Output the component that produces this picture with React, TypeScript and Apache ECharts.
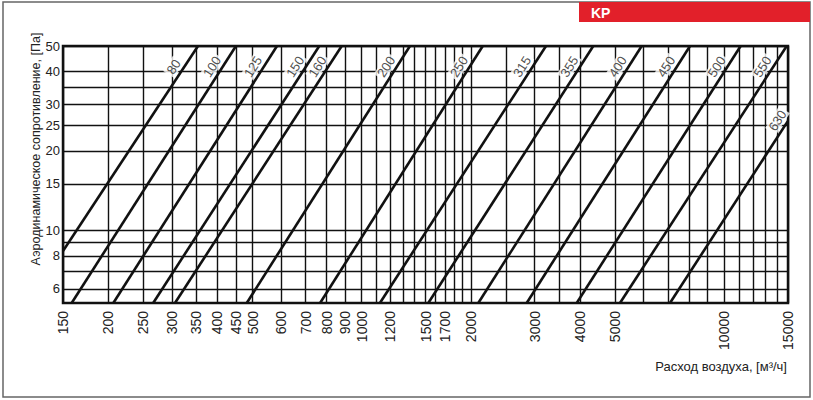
import React, { useEffect, useRef } from 'react';
import * as echarts from 'echarts';

// Duct diameters (mm), one characteristic line each
const diameters = ['80', '100', '125', '150', '160', '200', '250', '315', '355', '400', '450', '500', '550', '630'];
// First point of each line: air flow [m³/h] and pressure drop [Pa]
const startFlow = [150, 158.5, 206.5, 266, 305.5, 482, 768, 1123, 1527, 2098, 2853, 3920, 5160, 7088];
const startPressure = [8.35, 5.3, 5.3, 5.3, 5.3, 5.3, 5.3, 5.3, 5.3, 5.3, 5.3, 5.3, 5.3, 5.3];
// Last point of each line
const endFlow = [353.6, 450, 584, 764, 881, 1359, 2158, 3225, 4355, 5923, 8050, 11105, 14880, 15000];
const endPressure = [50, 50, 50, 50, 50, 50, 50, 50, 50, 50, 50, 50, 50, 26];
// Pressure at which each diameter label sits beside its line
const labelPressure = [40, 40, 40, 40, 40, 40, 40, 40, 40, 40, 40, 40, 40, 25];

const xTickValues = [150, 200, 250, 300, 350, 400, 450, 500, 600, 700, 800, 900, 1000, 1100, 1200, 1300, 1400, 1500, 1600, 1700, 1800, 1900, 2000, 2500, 3000, 3500, 4000, 5000, 6000, 7000, 8000, 9000, 10000, 11000, 12000, 13000, 14000, 15000];
const xLabelValues = [150, 200, 250, 300, 350, 400, 450, 500, 600, 700, 800, 900, 1000, 1200, 1500, 1700, 2000, 3000, 4000, 5000, 10000, 15000];
const yTickValues = [6, 7, 8, 9, 10, 15, 20, 25, 30, 35, 40, 50];
const yLabelValues = [6, 8, 10, 15, 20, 25, 30, 40, 50];

const yTitle = 'Аэродинамическое сопротивление, [Па]';
const xTitle = 'Расход воздуха, [м³/ч]';
const badge = 'KP';

const SANS = '"Liberation Sans", Arial, sans-serif';

function flowAt(i: number, p: number) {
  const lp1 = Math.log10(startPressure[i]);
  const lp2 = Math.log10(endPressure[i]);
  const lq1 = Math.log10(startFlow[i]);
  const lq2 = Math.log10(endFlow[i]);
  const t = (Math.log10(p) - lp1) / (lp2 - lp1);
  return Math.pow(10, lq1 + t * (lq2 - lq1));
}

export default function App() {
  const ref = useRef<HTMLDivElement>(null);
  useEffect(() => {
    if (!ref.current) return;
    const chart = echarts.init(ref.current, undefined, { renderer: 'svg' });
    const lineSeries = diameters.map((d, i) => ({
      type: 'line',
      name: d,
      data: [
        [startFlow[i], startPressure[i]],
        [endFlow[i], endPressure[i]],
      ],
      symbol: 'none',
      silent: true,
      z: 3,
      lineStyle: { color: '#111', width: 2.6 },
    }));
    const labelSeries = {
      type: 'scatter',
      silent: true,
      z: 2,
      symbol: 'circle',
      symbolSize: 1,
      itemStyle: { color: 'transparent' },
      data: diameters.map((d, i) => ({ name: d, value: [flowAt(i, labelPressure[i]), labelPressure[i]] })),
      label: {
        show: true,
        formatter: '{b}',
        position: 'inside',
        rotate: 57.5,
        offset: [0, -9],
        backgroundColor: '#fff',
        padding: [0, 2],
        fontSize: 13,
        fontFamily: SANS,
        color: '#222',
      },
    };
    chart.setOption({
      animation: false,
      backgroundColor: '#fff',
      grid: {
        left: 63,
        right: 25,
        top: 46,
        bottom: 97,
        show: true,
        borderColor: '#111',
        borderWidth: 2.5,
        backgroundColor: 'transparent',
      },
      xAxis: {
        type: 'log',
        logBase: 10,
        min: 150,
        max: 15000,
        axisLine: { show: false },
        axisTick: { show: false, customValues: xTickValues },
        splitLine: { show: true, lineStyle: { color: '#111', width: 1.4 } },
        minorTick: { show: false },
        minorSplitLine: { show: false },
        axisLabel: {
          customValues: xLabelValues,
          rotate: 90,
          margin: 8,
          fontSize: 14,
          fontFamily: SANS,
          color: '#222',
          formatter: (v: number) => String(Math.round(v)),
        },
      },
      yAxis: {
        type: 'log',
        logBase: 10,
        min: 5.3,
        max: 50,
        axisLine: { show: false },
        axisTick: { show: false, customValues: yTickValues },
        splitLine: { show: true, lineStyle: { color: '#111', width: 1.4 } },
        minorTick: { show: false },
        minorSplitLine: { show: false },
        axisLabel: {
          customValues: yLabelValues,
          margin: 3,
          fontSize: 13,
          fontFamily: SANS,
          color: '#222',
          formatter: (v: number) => String(Math.round(v)),
        },
      },
      graphic: [
        {
          type: 'rect',
          shape: { x: 3, y: 2, width: 807, height: 395 },
          style: { fill: 'none', stroke: '#666', lineWidth: 1.5 },
          silent: true,
        },
        {
          type: 'rect',
          shape: { x: 579, y: 2, width: 231, height: 20 },
          style: { fill: '#e2202a' },
          silent: true,
        },
        {
          type: 'text',
          x: 591,
          y: 12.5,
          style: { text: badge, fill: '#fff', fontSize: 14, fontWeight: 'bold', fontFamily: SANS, align: 'left', verticalAlign: 'middle' },
          silent: true,
        },
        {
          type: 'text',
          x: 36,
          y: 149,
          rotation: Math.PI / 2,
          style: { text: yTitle, fill: '#222', fontSize: 12.5, fontFamily: SANS, align: 'center', verticalAlign: 'middle' },
          silent: true,
        },
        {
          type: 'text',
          x: 787,
          y: 366,
          style: { text: xTitle, fill: '#222', fontSize: 13, fontFamily: SANS, align: 'right', verticalAlign: 'middle' },
          silent: true,
        },
      ],
      series: [...lineSeries, labelSeries],
    });
    return () => chart.dispose();
  }, []);
  return <div ref={ref} style={{ position: 'absolute', left: 0, top: 0, width: 813, height: 400 }} />;
}
